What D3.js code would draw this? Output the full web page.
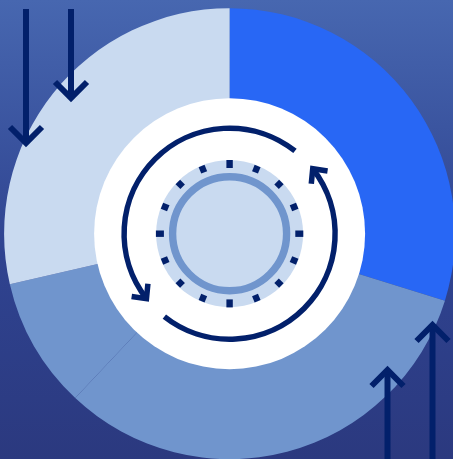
<!DOCTYPE html>
<html>
<head>
<meta charset="utf-8">
<script src="https://cdn.jsdelivr.net/npm/d3@7"></script>
<style>
html,body{margin:0;padding:0;background:#2b3a80;overflow:hidden}
svg{display:block}
</style>
</head>
<body>
<svg id="chart" width="453" height="459"></svg>
<script>
// Share of the ring, in percent, clockwise from twelve o'clock
const sliceNames = ["A", "B", "C", "D"];
const sliceValues = [29.8, 32.2, 9.4, 28.6];
const sliceColors = ["#2867f5", "#7095cd", "#7095cd", "#c9daf0"];

// Vertical arrows on the chart edges: position, shaft start and tip
const arrowX = [26, 71, 387.5, 432.5];
const arrowStart = [9, 9, 459, 459];
const arrowTip = [143, 98, 370, 325];

// Dial tick marks, in degrees clockwise from the top
const tickAngles = [0, 22.5, 45, 67.5, 90, 112.5, 135, 157.5, 180, 202.5, 225, 247.5, 270, 292.5, 315, 337.5];

// Circular arrows around the dial: start and end angle in degrees
const cycleFrom = [38.3, 218.2];
const cycleTo = [-128, 52];

const W = 453, H = 459;
const cx = 229.6, cy = 233.7;
const navy = "#02206b";

const svg = d3.select("#chart");
const defs = svg.append("defs");
const grad = defs.append("linearGradient").attr("id", "bg")
  .attr("x1", 0).attr("y1", 0).attr("x2", 0).attr("y2", 1);
grad.append("stop").attr("offset", "0").attr("stop-color", "#4767b0");
grad.append("stop").attr("offset", "0.55").attr("stop-color", "#2f4390");
grad.append("stop").attr("offset", "1").attr("stop-color", "#2b397f");

svg.append("rect").attr("width", W).attr("height", H).attr("fill", "url(#bg)");

// Donut
const pie = d3.pie().sort(null)(sliceValues);
const arc = d3.arc().innerRadius(132).outerRadius(225.5);
const chart = svg.append("g").attr("transform", `translate(${cx},${cy})`);
chart.selectAll("path.slice").data(pie).join("path")
  .attr("class", "slice")
  .attr("d", arc)
  .attr("fill", (d, i) => sliceColors[i]);
chart.append("circle").attr("r", 135.5).attr("fill", "#fff");

// Dial
chart.append("circle").attr("r", 73.5).attr("fill", "#c9daf0");
chart.append("circle").attr("r", 57).attr("fill", "#c9daf0")
  .attr("stroke", "#7095cd").attr("stroke-width", 7.4);
chart.selectAll("rect.tick").data(tickAngles).join("rect")
  .attr("class", "tick")
  .attr("x", -3.2)
  .attr("y", d => d % 90 === 0 ? -73.7 : -73.2)
  .attr("width", 6.4)
  .attr("height", d => d % 90 === 0 ? 8 : 6.8)
  .attr("fill", navy)
  .attr("transform", d => `rotate(${d})`);

// Circular arrows, both running anticlockwise
const rad = d => d * Math.PI / 180;
const ringR = 105.5;
const ring = chart.append("g").attr("fill", "none").attr("stroke", navy)
  .attr("stroke-width", 5.5);
cycleFrom.forEach((from, i) => {
  const a = rad(cycleTo[i]);
  const p = d3.path();
  p.arc(0, 0, ringR, rad(from) - Math.PI / 2, a - Math.PI / 2, true);
  ring.append("path").attr("d", p.toString());
  const tipX = ringR * Math.sin(a), tipY = -ringR * Math.cos(a);
  const heading = a - Math.PI / 2;   // travel direction at the arrow tip
  const wing = s => {
    const b = heading + Math.PI + s * 0.76;
    return [tipX + 15 * Math.sin(b), tipY - 15 * Math.cos(b)];
  };
  ring.append("path")
    .attr("stroke-linejoin", "miter")
    .attr("d", d3.line()([wing(-1), [tipX, tipY], wing(1)]));
});

// Straight arrows
const arrows = svg.append("g").attr("fill", "none").attr("stroke", navy)
  .attr("stroke-width", 6);
arrowX.forEach((x, i) => {
  const dir = arrowTip[i] > arrowStart[i] ? 1 : -1;
  arrows.append("path").attr("d", d3.line()([[x, arrowStart[i]], [x, arrowTip[i]]]));
  arrows.append("path").attr("stroke-linejoin", "miter")
    .attr("d", d3.line()([[x - 16, arrowTip[i] - dir * 16], [x, arrowTip[i]], [x + 16, arrowTip[i] - dir * 16]]));
});
</script>
</body>
</html>
